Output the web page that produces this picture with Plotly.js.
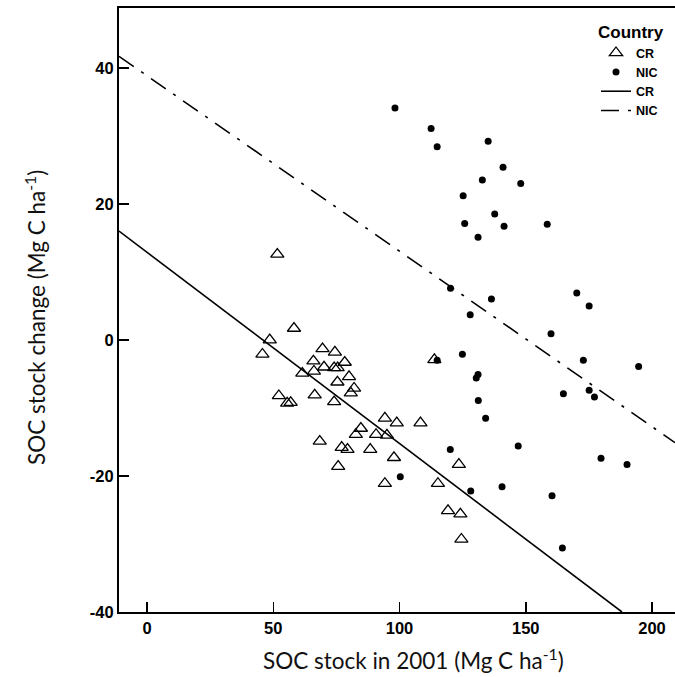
<!DOCTYPE html>
<html>
<head>
<meta charset="utf-8">
<script src="https://cdn.plot.ly/plotly-3.0.1.min.js"></script>
<style>html,body{margin:0;padding:0;background:#fff;}#chart{width:675px;height:677px;}</style>
</head>
<body>
<div id="chart"></div>
<script>
// Costa Rica (CR) plots: SOC stock in 2001 vs SOC stock change
const crX = [51.6, 58.2, 48.6, 45.7, 69.5, 74.4, 65.9, 78.3, 61.5, 66.1, 70.1, 74.1, 75.5, 80.0, 75.4, 82.0, 80.7, 52.2, 55.5, 56.9, 66.4, 74.1, 94.2, 84.7, 82.7, 90.7, 95.0, 68.4, 77.1, 79.4, 88.4, 97.8, 75.7, 94.2, 113.8, 98.9, 108.3, 123.5, 115.2, 119.2, 124.1, 124.5];
const crY = [12.6, 1.7, 0.0, -2.1, -1.3, -1.8, -3.1, -3.3, -4.9, -4.6, -4.0, -4.1, -4.1, -5.4, -6.2, -7.1, -7.8, -8.2, -9.3, -9.2, -8.1, -9.1, -11.5, -13.0, -13.9, -13.9, -14.0, -14.9, -15.8, -16.1, -16.1, -17.3, -18.6, -21.1, -2.9, -12.2, -12.2, -18.3, -21.1, -25.1, -25.6, -29.3];
// Nicaragua (NIC) plots
const nicX = [98.2, 112.5, 114.9, 135.1, 141.0, 132.8, 148.0, 125.2, 137.7, 125.8, 141.4, 158.5, 131.1, 120.2, 136.4, 128.0, 170.2, 175.1, 160.0, 124.9, 114.9, 172.8, 194.7, 131.1, 130.4, 175.1, 177.2, 164.9, 131.2, 134.1, 147.0, 120.1, 179.8, 190.1, 100.3, 128.2, 140.6, 160.4, 164.5];
const nicY = [34.1, 31.1, 28.4, 29.2, 25.4, 23.5, 23.0, 21.2, 18.5, 17.1, 16.7, 17.0, 15.1, 7.6, 6.0, 3.7, 6.9, 5.0, 0.9, -2.1, -3.0, -3.0, -3.9, -5.1, -5.6, -7.4, -8.4, -7.9, -8.9, -11.5, -15.6, -16.1, -17.4, -18.3, -20.1, -22.2, -21.6, -22.9, -30.6];
// Fitted regression lines (end points)
const crFitX = [-11.1, 188.1];
const crFitY = [16.0, -40.0];
const nicFitX = [-11.1, 209.1];
const nicFitY = [41.7, -15.1];
// Axis ticks
const xTicks = [0, 50, 100, 150, 200];
const yTicks = [-40, -20, 0, 20, 40];
const countries = ['CR', 'NIC'];

const tickFont = {family: 'Liberation Sans, Arial, sans-serif', size: 16.5, color: '#000', weight: 'bold'};
const titleFont = {family: 'Lato, Carlito, Calibri, sans-serif', size: 22.5, color: '#111'};

const traces = [
  {x: crX, y: crY, type: 'scatter', mode: 'markers', name: countries[0],
   marker: {symbol: 'triangle-up-open', size: 11.5, color: '#000', line: {width: 1.3, color: '#000'}}},
  {x: nicX, y: nicY, type: 'scatter', mode: 'markers', name: countries[1],
   marker: {symbol: 'circle', size: 7, color: '#000'}},
  {x: crFitX, y: crFitY, type: 'scatter', mode: 'lines', name: countries[0],
   line: {color: '#000', width: 1.6}},
  {x: nicFitX, y: nicFitY, type: 'scatter', mode: 'lines', name: countries[1],
   line: {color: '#000', width: 1.6, dash: '18px,9px,3px,9px'}}
];

const layout = {
  width: 675, height: 677,
  margin: {l: 119, r: 0, t: 8, b: 65, pad: 0},
  paper_bgcolor: '#fff', plot_bgcolor: '#fff',
  showlegend: true,
  legend: {
    x: (596 - 119) / 556, xanchor: 'left', y: (612 - 16) / 604, yanchor: 'top',
    bgcolor: 'rgba(0,0,0,0)',
    title: {text: '<b>Country</b>', side: 'top', font: {family: 'Liberation Sans, Arial, sans-serif', size: 17, weight: 'bold', color: '#000'}},
    font: {family: 'Liberation Sans, Arial, sans-serif', size: 12.5, weight: 'bold', color: '#000'},
    itemwidth: 30, tracegroupgap: 0
  },
  xaxis: {
    range: [-11.1, 209.1], tickvals: xTicks, ticktext: xTicks.map(v => '<b>' + v + '</b>'),
    ticks: 'inside', ticklen: 10, tickwidth: 1.5, tickcolor: '#000',
    showline: true, linecolor: '#000', linewidth: 2, mirror: true,
    showgrid: false, zeroline: false, tickfont: tickFont
  },
  yaxis: {
    range: [-40, 48.8], tickvals: yTicks, ticktext: yTicks.map(v => '<b>' + v + '</b>'),
    ticks: 'inside', ticklen: 10, tickwidth: 1.5, tickcolor: '#000',
    showline: true, linecolor: '#000', linewidth: 2, mirror: false,
    showgrid: false, zeroline: false, tickfont: tickFont
  },
  annotations: [
    {text: 'SOC stock in 2001 (Mg C ha<sup>-1</sup>)', xref: 'paper', yref: 'paper',
     x: (413 - 119) / 556, y: (612 - 659) / 604, xanchor: 'center', yanchor: 'middle', showarrow: false,
     font: titleFont},
    {text: 'SOC stock change (Mg C ha<sup>-1</sup>)', xref: 'paper', yref: 'paper', textangle: -90,
     x: (35 - 119) / 556, y: (612 - 318) / 604, xanchor: 'center', yanchor: 'middle', showarrow: false,
     font: titleFont}
  ]
};

Plotly.newPlot('chart', traces, layout, {staticPlot: true, displayModeBar: false});
</script>
</body>
</html>
